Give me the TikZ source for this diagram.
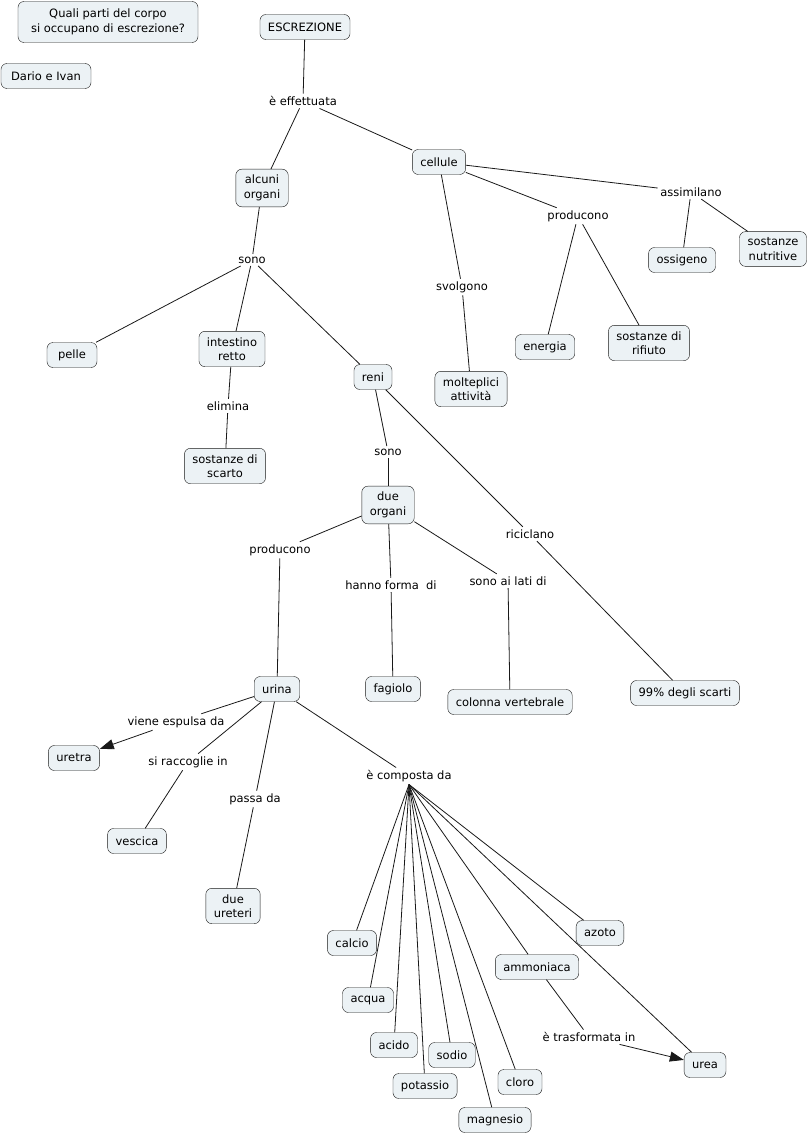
\documentclass[tikz,border=0pt]{standalone}
\usepackage{fontspec}
\setmainfont{DejaVu Sans}
\usetikzlibrary{arrows.meta}
\definecolor{conceptfill}{RGB}{236,242,245}
\begin{document}
\begin{tikzpicture}[x=1pt, y=-1pt,
    concept/.style={draw=black!90, fill=conceptfill, rounded corners=6pt, align=center,
        inner xsep=8pt, inner ysep=6pt, minimum height=25pt, font=\fontsize{11.5}{14.5}\selectfont},
    linkword/.style={fill=white, inner sep=2.5pt, align=center, font=\fontsize{11.5}{14.5}\selectfont},
    conn/.style={draw=black!90, line width=0.8pt},
    arrowconn/.style={conn, -{Triangle[length=14pt,width=10pt]}}]
    \useasboundingbox (0,0) rectangle (810,1137);
    % concepts
    \node[concept, minimum width=180pt, minimum height=41pt] (domanda) at (108,22) {Quali parti del corpo\\ si occupano di escrezione?};
    \node[concept, minimum width=90pt] (autori) at (46,76) {Dario e Ivan};
    \node[concept] (escrezione) at (305,27) {ESCREZIONE};
    \node[concept] (organi) at (262,188) {alcuni\\organi};
    \node[concept] (cellule) at (439,162) {cellule};
    \node[concept, minimum width=50pt] (pelle) at (72,355) {pelle};
    \node[concept] (intestino) at (232,349) {intestino\\retto};
    \node[concept] (reni) at (373,377) {reni};
    \node[concept] (scarto) at (225,466) {sostanze di\\scarto};
    \node[concept] (attivita) at (471,389) {molteplici\\attività};
    \node[concept] (ossigeno) at (682,260) {ossigeno};
    \node[concept] (nutritive) at (773,249) {sostanze\\nutritive};
    \node[concept] (energia) at (545,347) {energia};
    \node[concept] (rifiuto) at (649,343) {sostanze di\\rifiuto};
    \node[concept] (dueorgani) at (388,505) {due\\organi};
    \node[concept] (fagiolo) at (393,689) {fagiolo};
    \node[concept] (colonna) at (510,702) {colonna vertebrale};
    \node[concept] (scarti) at (685,693) {99\% degli scarti};
    \node[concept] (urina) at (277,689) {urina};
    \node[concept] (uretra) at (74,758) {uretra};
    \node[concept] (vescica) at (137,841) {vescica};
    \node[concept] (ureteri) at (233,906) {due\\ureteri};
    \node[concept] (calcio) at (352,943) {calcio};
    \node[concept] (azoto) at (600,933) {azoto};
    \node[concept] (ammoniaca) at (537,967) {ammoniaca};
    \node[concept] (acqua) at (368,1000) {acqua};
    \node[concept] (acido) at (394,1045) {acido};
    \node[concept] (sodio) at (452,1055) {sodio};
    \node[concept] (potassio) at (425,1086) {potassio};
    \node[concept] (cloro) at (520,1082) {cloro};
    \node[concept] (magnesio) at (495,1120) {magnesio};
    \node[concept] (urea) at (705,1065) {urea};
    % linking words
    \node[linkword] (effettuata) at (303,101) {è effettuata};
    \node[linkword] (sono1) at (252,260) {sono};
    \node[linkword] (elimina) at (228,406) {elimina};
    \node[linkword] (svolgono) at (462,287) {svolgono};
    \node[linkword] (producono1) at (578,216) {producono};
    \node[linkword] (assimilano) at (691,192) {assimilano};
    \node[linkword] (sono2) at (388,452) {sono};
    \node[linkword] (riciclano) at (530,534) {riciclano};
    \node[linkword] (producono2) at (280,550) {producono};
    \node[linkword] (forma) at (391,585) {hanno forma~ di};
    \node[linkword] (lati) at (508,581) {sono ai lati di};
    \node[linkword] (espulsa) at (176,722) {viene espulsa da};
    \node[linkword] (raccoglie) at (188,762) {si raccoglie in};
    \node[linkword] (passa) at (255,799) {passa da};
    \node[linkword] (composta) at (409,776) {è composta da};
    \node[linkword] (trasformata) at (589,1037) {è trasformata in};
    % connections
    \draw[conn] (escrezione) -- (effettuata);
    \draw[conn] (effettuata) -- (organi);
    \draw[conn] (effettuata) -- (cellule);
    \draw[conn] (organi) -- (sono1);
    \draw[conn] (sono1) -- (pelle);
    \draw[conn] (sono1) -- (intestino);
    \draw[conn] (sono1) -- (reni);
    \draw[conn] (intestino) -- (elimina);
    \draw[conn] (elimina) -- (scarto);
    \draw[conn] (cellule) -- (svolgono);
    \draw[conn] (svolgono) -- (attivita);
    \draw[conn] (cellule) -- (producono1);
    \draw[conn] (producono1) -- (energia);
    \draw[conn] (producono1) -- (rifiuto);
    \draw[conn] (cellule) -- (assimilano);
    \draw[conn] (assimilano) -- (ossigeno);
    \draw[conn] (assimilano) -- (nutritive);
    \draw[conn] (reni) -- (sono2);
    \draw[conn] (sono2) -- (dueorgani);
    \draw[conn] (reni) -- (riciclano);
    \draw[conn] (riciclano) -- (scarti);
    \draw[conn] (dueorgani) -- (producono2);
    \draw[conn] (producono2) -- (urina);
    \draw[conn] (dueorgani) -- (forma);
    \draw[conn] (forma) -- (fagiolo);
    \draw[conn] (dueorgani) -- (lati);
    \draw[conn] (lati) -- (colonna);
    \draw[conn] (urina) -- (espulsa);
    \draw[arrowconn] (espulsa) -- (uretra);
    \draw[conn] (urina) -- (raccoglie);
    \draw[conn] (raccoglie) -- (vescica);
    \draw[conn] (urina) -- (passa);
    \draw[conn] (passa) -- (ureteri);
    \draw[conn] (urina) -- (composta);
    \foreach \elem in {calcio,acqua,acido,potassio,sodio,magnesio,cloro,ammoniaca,urea,azoto}
        \draw[conn] (composta.south) -- (\elem);
    \draw[conn] (ammoniaca) -- (trasformata);
    \draw[arrowconn] (trasformata) -- (urea);
\end{tikzpicture}
\end{document}
